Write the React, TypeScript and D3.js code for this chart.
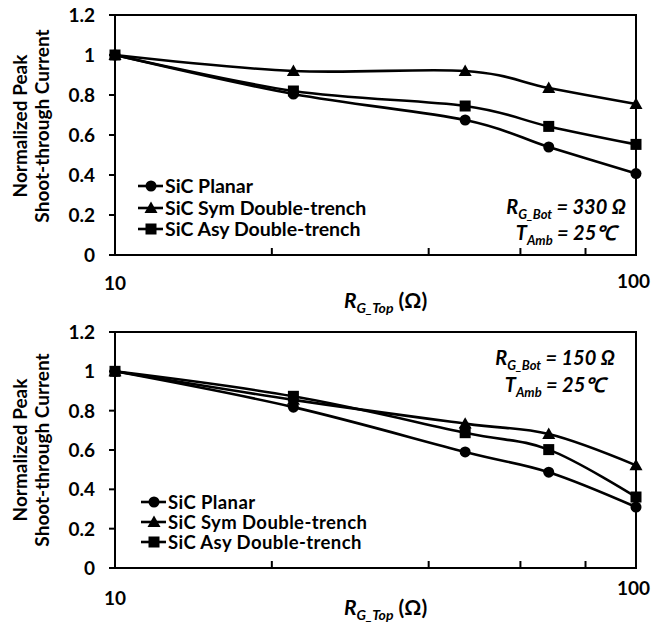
import React from 'react';
import * as d3 from 'd3';

const xValues = [10, 22, 47, 68, 100];
const xMinorTicks = [20, 40, 60, 80];
const yTicks = [0, 0.2, 0.4, 0.6, 0.8, 1.0, 1.2];
const yTickLabels = ['0', '0.2', '0.4', '0.6', '0.8', '1', '1.2'];
const seriesNames = ['SiC Planar', 'SiC Sym Double-trench', 'SiC Asy Double-trench'];
const markerTypes = ['circle', 'triangle', 'square'];

const topPlanar = [1, 0.805, 0.675, 0.54, 0.407];
const topSym = [1, 0.92, 0.92, 0.835, 0.755];
const topAsy = [1, 0.82, 0.745, 0.643, 0.553];

const botPlanar = [1, 0.818, 0.59, 0.487, 0.31];
const botSym = [1, 0.855, 0.734, 0.681, 0.522];
const botAsy = [1, 0.873, 0.688, 0.602, 0.361];

const FONT = 'Lato, "Open Sans", sans-serif';

function Marker({ type, x, y }: { type: string; x: number; y: number }) {
  if (type === 'circle') return <circle cx={x} cy={y} r={5.5} fill="#000" />;
  if (type === 'square') return <rect x={x - 5.5} y={y - 5.5} width={11} height={11} fill="#000" />;
  const s = 6.5;
  return <path d={`M${x},${y - s}L${x + s},${y + s * 0.75}L${x - s},${y + s * 0.75}Z`} fill="#000" />;
}

type PanelProps = {
  series: number[][];
  top: number;
  bottom: number;
  bot: string;
  ann: { cx: number; y1: number; y2: number };
  legendYs: number[];
  legendX: number;
  legendFont: number;
  titleCY: number;
  xLabelY: number;
  tenY: number;
  hundredY: number;
};

function Panel(p: PanelProps) {
  const x = d3.scaleLog().domain([10, 100]).range([115, 636]);
  const y = d3.scaleLinear().domain([0, 1.2]).range([p.bottom, p.top]);
  const line = d3
    .line<number>()
    .x((_, i) => x(xValues[i]))
    .y((d) => y(d))
    .curve(d3.curveCardinal.tension(0));
  return (
    <g>
      {p.series.map((s, si) => (
        <g key={si}>
          <path d={line(s) || ''} fill="none" stroke="#000" strokeWidth={2.6} />
          {s.map((v, i) => (
            <Marker key={i} type={markerTypes[si]} x={x(xValues[i])} y={y(v)} />
          ))}
        </g>
      ))}
      <rect x={x(10)} y={p.top} width={x(100) - x(10)} height={p.bottom - p.top} fill="none" stroke="#000" strokeWidth={2} />
      {yTicks.map((t, i) => (
        <g key={i}>
          <line x1={x(10) - 6} x2={x(10)} y1={y(t)} y2={y(t)} stroke="#000" strokeWidth={2} />
          <text x={95} y={y(t)} dy="0.36em" textAnchor="end" fontSize={19} fontWeight={700} fontFamily={FONT}>
            {yTickLabels[i]}
          </text>
        </g>
      ))}
      {xMinorTicks.map((t) => (
        <line key={t} x1={x(t)} x2={x(t)} y1={p.bottom} y2={p.bottom - 7} stroke="#000" strokeWidth={2} />
      ))}
      <text x={x(10)} y={p.tenY} textAnchor="middle" fontSize={19} fontWeight={700} fontFamily={FONT}>10</text>
      <text x={650} y={p.hundredY} textAnchor="end" fontSize={19} fontWeight={700} fontFamily={FONT}>100</text>
      <text x={344} y={p.xLabelY} fontSize={21} fontWeight={700} fontFamily={FONT}>
        <tspan fontStyle="italic">R</tspan>
        <tspan fontStyle="italic" fontSize={14} dy={5}>G_Top</tspan>
        <tspan dy={-5}> (Ω)</tspan>
      </text>
      <g transform={`translate(27,${p.titleCY}) rotate(-90)`}>
        <text x={0} y={0} textAnchor="middle" fontSize={19} fontWeight={700} fontFamily={FONT}>Normalized Peak</text>
        <text x={0} y={22} textAnchor="middle" fontSize={19} fontWeight={700} fontFamily={FONT}>Shoot-through Current</text>
      </g>
      {seriesNames.map((n, i) => (
        <g key={n}>
          <line x1={p.legendX - 27} x2={p.legendX - 2} y1={p.legendYs[i]} y2={p.legendYs[i]} stroke="#000" strokeWidth={2.6} />
          <Marker type={markerTypes[i]} x={p.legendX - 14} y={p.legendYs[i]} />
          <text x={p.legendX} y={p.legendYs[i]} dy="0.36em" fontSize={p.legendFont} letterSpacing={19.5 - p.legendFont > 0 ? 0.4 : 0} fontWeight={700} fontFamily={FONT}>{n}</text>
        </g>
      ))}
      <text x={p.ann.cx} y={p.ann.y1} textAnchor="middle" fontSize={20} fontWeight={700} fontStyle="italic" fontFamily={FONT}>
        <tspan>R</tspan>
        <tspan fontSize={13} dy={5}>G_Bot</tspan>
        <tspan dy={-5}>{` = ${p.bot} Ω`}</tspan>
      </text>
      <text x={p.ann.cx} y={p.ann.y2} textAnchor="middle" fontSize={20} fontWeight={700} fontStyle="italic" fontFamily={FONT}>
        <tspan>T</tspan>
        <tspan fontSize={13} dy={5}>Amb</tspan>
        <tspan dy={-5}> = 25℃</tspan>
      </text>
    </g>
  );
}

export default function App() {
  return (
    <svg width={652} height={627} style={{ position: 'absolute', left: 0, top: 0, background: '#fff' }}>
      <rect width={652} height={627} fill="#fff" />
      <Panel
        series={[topPlanar, topSym, topAsy]}
        top={15}
        bottom={255}
        bot="330"
        ann={{ cx: 566, y1: 214, y2: 240 }}
        legendYs={[186, 208, 229]}
        legendX={165}
        legendFont={19.5}
        titleCY={126}
        xLabelY={308}
        tenY={290}
        hundredY={288}
      />
      <Panel
        series={[botPlanar, botSym, botAsy]}
        top={332}
        bottom={568}
        bot="150"
        ann={{ cx: 555, y1: 365, y2: 392 }}
        legendYs={[502, 522, 542]}
        legendX={168}
        legendFont={18.5}
        titleCY={450}
        xLabelY={615}
        tenY={605}
        hundredY={595}
      />
    </svg>
  );
}
